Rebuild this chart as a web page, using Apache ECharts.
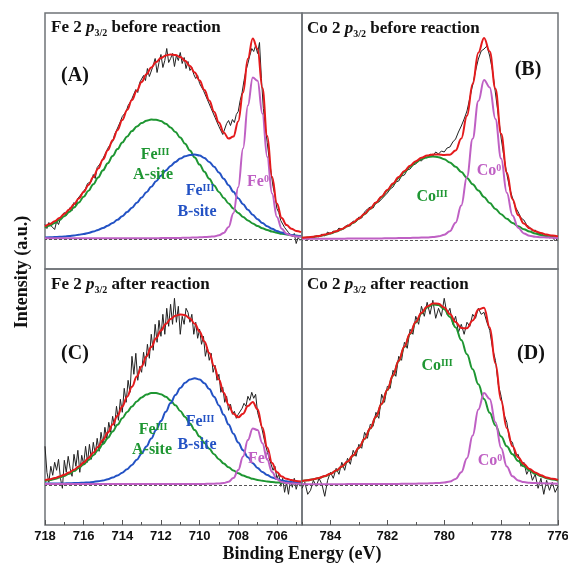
<!DOCTYPE html>
<html>
<head>
<meta charset="utf-8">
<script src="https://cdn.jsdelivr.net/npm/echarts@6/dist/echarts.min.js"></script>
<style>
html, body { margin: 0; padding: 0; background: #ffffff; }
#chart { width: 568px; height: 569px; }
</style>
</head>
<body>
<div id="chart"></div>
<script>
// ---- Binding energies (eV) ----
const feFitEnergy = [718,717.75,717.5,717.25,717,716.75,716.5,716.25,716,715.75,715.5,715.25,715,714.75,714.5,714.25,714,713.75,713.5,713.25,713,712.75,712.5,712.25,712,711.75,711.5,711.25,711,710.75,710.5,710.25,710,709.75,709.5,709.25,709,708.75,708.5,708.25,708,707.75,707.5,707.25,707,706.75,706.5,706.25,706,705.75,705.5,705.25,705,704.75];
const feRawEnergy = [
  718,717.9,717.8,717.7,717.6,717.5,717.4,717.3,717.2,717.1,
  717,716.9,716.8,716.7,716.6,716.5,716.4,716.3,716.2,716.1,
  716,715.9,715.8,715.7,715.6,715.5,715.4,715.3,715.2,715.1,
  715,714.9,714.8,714.7,714.6,714.5,714.4,714.3,714.2,714.1,
  714,713.9,713.8,713.7,713.6,713.5,713.4,713.3,713.2,713.1,
  713,712.9,712.8,712.7,712.6,712.5,712.4,712.3,712.2,712.1,
  712,711.9,711.8,711.7,711.6,711.5,711.4,711.3,711.2,711.1,
  711,710.9,710.8,710.7,710.6,710.5,710.4,710.3,710.2,710.1,
  710,709.9,709.8,709.7,709.6,709.5,709.4,709.3,709.2,709.1,
  709,708.9,708.8,708.7,708.6,708.5,708.4,708.3,708.2,708.1,
  708,707.9,707.8,707.7,707.6,707.5,707.4,707.3,707.2,707.1,
  707,706.9,706.8,706.7,706.6,706.5,706.4,706.3,706.2,706.1,
  706,705.9,705.8,705.7,705.6,705.5,705.4,705.3,705.2,705.1,
  705,704.9,704.8];
const coFitEnergy = [785,784.8,784.6,784.4,784.2,784,783.8,783.6,783.4,783.2,783,782.8,782.6,782.4,782.2,782,781.8,781.6,781.4,781.2,781,780.8,780.6,780.4,780.2,780,779.8,779.6,779.4,779.2,779,778.8,778.6,778.4,778.2,778,777.8,777.6,777.4,777.2,777,776.8,776.6,776.4,776.2,776];
const coRawEnergy = [
  785,784.9,784.8,784.7,784.6,784.5,784.4,784.3,784.2,784.1,
  784,783.9,783.8,783.7,783.6,783.5,783.4,783.3,783.2,783.1,
  783,782.9,782.8,782.7,782.6,782.5,782.4,782.3,782.2,782.1,
  782,781.9,781.8,781.7,781.6,781.5,781.4,781.3,781.2,781.1,
  781,780.9,780.8,780.7,780.6,780.5,780.4,780.3,780.2,780.1,
  780,779.9,779.8,779.7,779.6,779.5,779.4,779.3,779.2,779.1,
  779,778.9,778.8,778.7,778.6,778.5,778.4,778.3,778.2,778.1,
  778,777.9,777.8,777.7,777.6,777.5,777.4,777.3,777.2,777.1,
  777,776.9,776.8,776.7,776.6,776.5,776.4,776.3,776.2,776.1,
  776];

// ---- (A) Fe 2p3/2 before reaction ----
const feBeforeRaw = [
  14,10,16,13,15,9,17,14,20,19,
  26,23,27,31,28,36,33,40,39,45,
  44,50,55,53,57,64,60,71,70,76,
  80,84,88,92,93,97,104,108,109,117,
  122,124,127,133,136,140,141,149,146,156,
  154,163,158,170,162,161,173,180,166,176,
  184,171,178,190,176,180,185,172,183,178,
  186,175,181,170,177,168,171,164,160,163,
  155,157,148,149,139,141,130,131,121,122,
  112,111,104,102,115,118,113,119,116,124,
  127,138,146,158,168,175,183,190,187,193,
  185,196,160,130,112,96,80,66,52,43,
  30,26,18,17,11,12,6,8,2,5,
  -5,1,-2];
const feBeforeASite = [10.7,13.0,15.6,18.7,22.3,26.4,31.0,36.1,41.7,47.8,54.3,61.1,68.2,75.3,82.4,89.4,96.0,102.0,107.4,111.9,115.4,117.8,118.9,118.8,117.4,114.8,111.1,106.4,100.9,94.7,88.0,81.0,73.9,66.7,59.7,53.0,46.6,40.6,35.1,30.0,25.5,21.6,18.1,15.1,12.5,10.3,8.5,7.0,5.8,4.8,4.0,3.3,2.8,2.4];
const feBeforeBSite = [1.1,1.3,1.4,1.7,2.0,2.4,3.0,3.7,4.5,5.6,6.9,8.6,10.5,12.8,15.6,18.7,22.3,26.4,30.8,35.7,40.9,46.3,51.8,57.3,62.7,67.9,72.5,76.6,79.9,82.3,83.6,84.0,82.9,80.4,76.6,71.7,66.1,59.8,53.3,46.7,40.3,34.3,28.7,23.7,19.3,15.5,12.3,9.7,7.6,5.9,4.6,3.6,2.8,2.2];
const feBeforeMetal = [0.2,0.2,0.2,0.2,0.2,0.2,0.2,0.2,0.2,0.2,0.2,0.2,0.2,0.2,0.2,0.2,0.2,0.2,0.2,0.2,0.2,0.2,0.3,0.3,0.4,0.4,0.5,0.5,0.6,0.7,0.8,1.0,1.2,1.4,1.7,2.1,3.2,5.5,11.5,25.2,51.3,90.1,132.9,161.1,157.7,124.8,81.6,45.0,21.6,9.8,4.8,2.9,2.0,1.7];
const feBeforeEnvelope = [12.0,14.5,17.2,20.6,24.5,29.0,34.2,40.0,46.4,53.6,61.4,69.9,78.9,88.3,98.2,108.3,118.5,128.6,138.4,147.8,156.5,164.3,171.0,176.4,180.5,183.1,184.1,183.5,181.4,177.7,172.4,166.0,158.0,148.5,138.0,126.8,115.9,105.9,99.9,101.9,117.1,146.0,179.7,199.9,189.5,150.6,102.4,61.7,35.0,20.5,13.4,9.8,7.6,6.3];

// ---- (B) Co 2p3/2 before reaction ----
const coBeforeRaw = [
  0,1,-1,2,1,3,2,5,3,7,
  5,8,7,11,9,12,14,13,18,17,
  22,21,27,30,32,31,36,37,40,43,
  46,50,52,57,58,63,64,69,70,74,
  75,79,78,82,81,85,83,87,85,88,
  87,91,92,97,100,107,113,120,128,141,
  154,168,180,188,190,193,183,168,146,124,
  101,82,65,51,41,32,27,21,19,14,
  12,8,9,5,6,3,4,1,2,-2,
  1];
const coBeforeOxide = [1.0,1.5,2.1,2.9,4.1,5.5,7.4,9.8,12.7,16.1,20.2,24.8,30.1,35.9,42.0,48.4,54.8,61.1,67.0,72.2,76.5,79.8,81.8,82.5,81.8,79.8,76.5,72.2,67.0,61.1,54.8,48.4,42.0,35.9,30.1,24.8,20.2,16.1,12.7,9.8,7.4,5.5,4.1,2.9,2.1,1.5];
const coBeforeMetal = [0.2,0.2,0.2,0.2,0.3,0.3,0.3,0.3,0.4,0.4,0.4,0.5,0.5,0.6,0.6,0.7,0.8,0.9,1.0,1.1,1.3,1.4,1.6,2.0,2.7,4.2,7.8,16.3,33.5,62.2,100.3,137.9,159.0,151.6,120.1,80.4,46.3,23.6,11.2,5.6,3.3,2.3,1.8,1.5,1.3,1.1];
const coBeforeEnvelope = [1.2,1.7,2.3,3.1,4.4,5.8,7.7,10.1,13.1,16.5,20.6,25.3,30.6,36.5,42.6,49.1,55.6,62.0,68.0,73.3,77.8,81.2,83.4,84.5,84.5,84.0,84.3,88.5,100.5,123.3,155.1,186.3,201.0,187.5,150.2,105.2,66.5,39.7,23.9,15.4,10.7,7.8,5.9,4.4,3.4,2.6];

// ---- (C) Fe 2p3/2 after reaction ----
const feAfterRaw = [
  38,12,2,18,9,22,14,25,6,-4,
  24,12,28,16,8,30,18,34,12,29,
  20,38,22,40,25,42,30,46,33,52,
  40,57,45,62,52,68,58,78,64,85,
  72,96,82,104,92,128,110,131,104,118,
  112,132,118,140,126,150,134,160,142,164,
  148,170,150,176,158,180,160,186,162,178,
  150,168,160,176,172,162,170,150,162,146,
  155,140,148,128,137,124,131,112,119,104,
  110,92,97,82,88,74,80,70,73,66,
  70,72,76,81,78,88,84,92,86,90,
  72,74,58,56,40,42,26,28,14,18,
  6,10,-2,6,-8,2,-10,4,-3,6,
  -5,2,-2];
const feAfterASite = [3.3,4.2,5.3,6.7,8.4,10.6,13.2,16.3,19.9,24.2,29.0,34.4,40.2,46.4,52.9,59.5,66.0,72.2,77.9,82.9,86.9,89.7,91.3,91.4,90.1,87.5,83.8,79.0,73.4,67.3,60.8,54.2,47.7,41.4,35.5,30.0,25.1,20.8,17.0,13.8,11.0,8.8,7.0,5.5,4.4,3.5,2.8,2.3,1.9,1.6,1.3,1.2,1.0,0.9];
const feAfterBSite = [0.7,0.7,0.8,0.8,0.9,1.0,1.2,1.3,1.6,1.9,2.4,3.0,3.9,5.1,6.7,8.8,11.6,15.1,19.4,24.6,30.8,37.9,45.8,54.4,63.4,72.5,81.2,89.3,96.2,101.5,104.8,106.0,104.7,101.0,95.2,87.6,78.9,69.5,59.9,50.6,41.8,34.0,27.0,21.1,16.3,12.3,9.3,6.9,5.2,3.9,3.0,2.3,1.8,1.5];
const feAfterMetal = [0.2,0.2,0.2,0.2,0.2,0.2,0.2,0.2,0.2,0.2,0.2,0.2,0.2,0.2,0.2,0.2,0.2,0.2,0.2,0.2,0.2,0.2,0.2,0.2,0.3,0.3,0.3,0.3,0.3,0.3,0.3,0.3,0.3,0.4,0.5,0.6,0.8,1.3,2.6,6.2,14.2,27.8,44.2,55.8,54.3,41.0,24.7,12.2,5.2,2.2,1.2,0.8,0.6,0.5];
const feAfterEnvelope = [4.2,5.1,6.3,7.7,9.5,11.8,14.6,17.8,21.7,26.3,31.6,37.6,44.3,51.7,59.8,68.5,77.8,87.5,97.5,107.7,117.9,127.8,137.3,146.0,153.8,160.3,165.3,168.6,169.9,169.1,165.9,160.5,152.7,142.8,131.2,118.2,104.8,91.6,79.5,70.6,67.0,70.6,78.2,82.4,75.0,56.8,36.8,21.4,12.3,7.7,5.5,4.3,3.4,2.9];

// ---- (D) Co 2p3/2 after reaction ----
const coAfterRaw = [
  -4,2,-10,-6,4,-2,6,0,-12,4,
  12,6,16,10,22,14,26,20,34,28,
  40,36,52,46,60,58,72,66,90,82,
  98,96,114,108,128,124,142,136,155,150,
  168,160,178,168,182,170,184,166,176,168,
  186,170,176,160,168,152,160,150,162,158,
  170,166,176,170,172,162,154,136,124,100,
  88,70,62,44,42,28,30,18,22,10,
  16,4,10,-4,6,-10,4,-6,2,-8,
  -2];
const coAfterOxide = [3.3,4.0,5.0,6.3,8.1,10.4,13.5,17.5,22.6,28.8,36.3,45.3,55.7,67.4,80.3,94.2,108.6,123.2,137.3,150.3,161.7,170.7,176.9,179.8,179.2,175.0,167.4,156.9,144.2,130.0,115.1,100.0,85.3,71.5,58.9,47.8,38.1,30.0,23.3,18.0,13.7,10.5,8.0,6.1,4.8,3.8];
const coAfterMetal = [0.1,0.1,0.1,0.1,0.1,0.1,0.15,0.15,0.2,0.2,0.2,0.25,0.25,0.3,0.3,0.35,0.4,0.4,0.5,0.55,0.65,0.75,0.9,1.1,1.4,1.8,2.8,5.4,12.0,26.0,48.7,74.9,91.2,85.3,62.0,36.3,17.9,8.0,3.8,2.2,1.6,1.2,1.1,0.8,0.7,0.6];
const coAfterEnvelope = [3.4,4.1,5.1,6.4,8.2,10.5,13.7,17.7,22.8,29.0,36.5,45.6,56.0,67.7,80.6,94.6,109.0,123.6,137.8,150.9,162.4,171.5,177.8,180.9,180.6,176.8,170.2,162.3,156.2,156.0,163.8,174.9,176.5,156.8,120.9,84.1,56.0,38.0,27.1,20.2,15.3,11.7,9.1,6.9,5.5,4.4];

// ---- Axis ticks ----
const feMajorTicks = [718,716,714,712,710,708,706];
const feMinorTicks = [717,715,713,711,709,707,705];
const coMajorTicks = [784,782,780,778,776];
const coMinorTicks = [785,783,781,779,777];
const feRange = [704.7, 718];
const coRange = [776, 785];

// Intensity window of each panel (fit baseline sits at 0)
const yRanges = [[-30.5, 225.5], [-30, 226], [-40.7, 215.3], [-40.7, 215.3]];
const baselines = [-1, -1, -0.7, -0.7];

const COLORS = { raw: '#222222', red: '#e41a1c', green: '#1e9632', blue: '#2352c4', purple: '#bf60c4' };

const pairs = (xs, ys) => xs.map((x, i) => [x, ys[i]]);

const panels = [
  { E: feFitEnergy, rawE: feRawEnergy, raw: feBeforeRaw, comps: [[feBeforeASite, 'green'], [feBeforeBSite, 'blue'], [feBeforeMetal, 'purple']], env: feBeforeEnvelope },
  { E: coFitEnergy, rawE: coRawEnergy, raw: coBeforeRaw, comps: [[coBeforeOxide, 'green'], [coBeforeMetal, 'purple']], env: coBeforeEnvelope },
  { E: feFitEnergy, rawE: feRawEnergy, raw: feAfterRaw, comps: [[feAfterASite, 'green'], [feAfterBSite, 'blue'], [feAfterMetal, 'purple']], env: feAfterEnvelope },
  { E: coFitEnergy, rawE: coRawEnergy, raw: coAfterRaw, comps: [[coAfterOxide, 'green'], [coAfterMetal, 'purple']], env: coAfterEnvelope }
];

const gridBox = [
  { left: 45, top: 13, width: 257, height: 256 },
  { left: 302, top: 13, width: 256, height: 256 },
  { left: 45, top: 269, width: 257, height: 256 },
  { left: 302, top: 269, width: 256, height: 256 }
];

const grid = gridBox.map(b => Object.assign({
  show: true, borderColor: '#6f7377', borderWidth: 1.5,
  backgroundColor: 'transparent', containLabel: false, outerBoundsMode: 'none'
}, b));

const tickLine = { color: '#555555', width: 1 };
const labelStyle = { color: '#111111', fontFamily: 'Liberation Sans, Arial, sans-serif', fontWeight: 'bold', fontSize: 13, margin: 5 };

const xAxis = [];
[0, 1, 2, 3].forEach(i => {
  const isFe = (i % 2 === 0);
  const range = isFe ? feRange : coRange;
  const bottom = i >= 2;
  xAxis.push({
    gridIndex: i, type: 'value', min: range[0], max: range[1], inverse: true,
    position: 'bottom', show: bottom,
    axisLine: { show: false, onZero: false },
    splitLine: { show: false },
    axisTick: { show: bottom, inside: true, length: 5, lineStyle: tickLine, customValues: isFe ? feMajorTicks : coMajorTicks },
    axisLabel: Object.assign({ show: bottom, customValues: isFe ? feMajorTicks : coMajorTicks, formatter: v => String(v) }, labelStyle)
  });
});
// minor ticks on the two bottom panels
[2, 3].forEach(i => {
  const isFe = (i % 2 === 0);
  const range = isFe ? feRange : coRange;
  xAxis.push({
    gridIndex: i, type: 'value', min: range[0], max: range[1], inverse: true,
    position: 'bottom', offset: 0,
    axisLine: { show: false, onZero: false }, splitLine: { show: false }, axisLabel: { show: false },
    axisTick: { show: true, inside: true, length: 3, lineStyle: tickLine, customValues: isFe ? feMinorTicks : coMinorTicks }
  });
});

const yAxis = yRanges.map((r, i) => ({ gridIndex: i, type: 'value', min: r[0], max: r[1], show: false }));

const series = [];
panels.forEach((p, i) => {
  series.push({
    type: 'line', xAxisIndex: i, yAxisIndex: i, data: pairs(p.rawE, p.raw),
    showSymbol: false, symbol: 'none', lineStyle: { color: COLORS.raw, width: 1 }, z: 2,
    markLine: {
      silent: true, symbol: ['none', 'none'], label: { show: false },
      lineStyle: { type: [3, 2], color: '#555555', width: 1 },
      data: [{ yAxis: baselines[i] }]
    }
  });
  p.comps.forEach(([vals, col]) => {
    series.push({
      type: 'line', xAxisIndex: i, yAxisIndex: i, data: pairs(p.E, vals),
      showSymbol: false, symbol: 'none', smooth: 0.4, smoothMonotone: 'x',
      lineStyle: { color: COLORS[col], width: 2 }, z: 3
    });
  });
  series.push({
    type: 'line', xAxisIndex: i, yAxisIndex: i, data: pairs(p.E, p.env),
    showSymbol: false, symbol: 'none', smooth: 0.4, smoothMonotone: 'x',
    lineStyle: { color: COLORS.red, width: 2 }, z: 4
  });
});

// ---- Text ----
const SERIF = 'Liberation Serif, Times New Roman, serif';
const titleRich = {
  b: { fontFamily: SERIF, fontWeight: 'bold', fontSize: 17, lineHeight: 20, fill: '#111' },
  i: { fontFamily: SERIF, fontWeight: 'bold', fontStyle: 'italic', fontSize: 17, lineHeight: 20, fill: '#111' },
  s: { fontFamily: SERIF, fontWeight: 'bold', fontSize: 10, lineHeight: 10, padding: [10, 0, 0, 0], fill: '#111' }
};
function title(x, y, element, state) {
  return {
    type: 'text', x: x, y: y, z: 10,
    style: {
      text: '{b|' + element + ' 2 }{i|p}{s|3/2}{b| ' + state + ' reaction}',
      rich: titleRich, textAlign: 'left', textVerticalAlign: 'middle', align: 'left', verticalAlign: 'middle'
    }
  };
}
function plain(x, y, text, size, color, align) {
  return {
    type: 'text', x: x, y: y, z: 10,
    style: {
      text: text, fill: color, font: 'bold ' + size + 'px ' + SERIF,
      textAlign: align || 'center', textVerticalAlign: 'middle', align: align || 'center', verticalAlign: 'middle'
    }
  };
}
function species(x, y, base, sup, color) {
  return {
    type: 'text', x: x, y: y, z: 10,
    style: {
      text: '{m|' + base + '}{u|' + sup + '}',
      fill: color,
      rich: {
        m: { fontFamily: SERIF, fontWeight: 'bold', fontSize: 16, lineHeight: 18, fill: color },
        u: { fontFamily: SERIF, fontWeight: 'bold', fontSize: 10, lineHeight: 10, padding: [0, 0, 6, 0], fill: color }
      },
      textAlign: 'center', textVerticalAlign: 'middle', align: 'center', verticalAlign: 'middle'
    }
  };
}

const graphic = [
  title(51, 28, 'Fe', 'before'),
  title(307, 29, 'Co', 'before'),
  title(51, 285, 'Fe', 'after'),
  title(307, 285, 'Co', 'after'),
  plain(75, 76, '(A)', 20, '#111'),
  plain(528, 70, '(B)', 20, '#111'),
  plain(75, 354, '(C)', 20, '#111'),
  plain(531, 354, '(D)', 20, '#111'),
  // panel A
  species(155, 155, 'Fe', 'III', COLORS.green),
  plain(153, 175, 'A-site', 16, COLORS.green),
  species(200, 191, 'Fe', 'III', COLORS.blue),
  plain(197, 212, 'B-site', 16, COLORS.blue),
  species(258, 182, 'Fe', '0', COLORS.purple),
  // panel B
  species(432, 197, 'Co', 'III', COLORS.green),
  species(489, 171, 'Co', '0', COLORS.purple),
  // panel C
  species(153, 430, 'Fe', 'III', COLORS.green),
  plain(152, 450, 'A-site', 16, COLORS.green),
  species(200, 422, 'Fe', 'III', COLORS.blue),
  plain(197, 445, 'B-site', 16, COLORS.blue),
  species(259, 459, 'Fe', '0', COLORS.purple),
  // panel D
  species(437, 366, 'Co', 'III', COLORS.green),
  species(490, 461, 'Co', '0', COLORS.purple),
  // axis names
  plain(302, 554, 'Binding Energy (eV)', 18, '#111'),
  {
    type: 'text', x: 22, y: 272, rotation: Math.PI / 2, z: 10,
    style: {
      text: 'Intensity (a.u.)', fill: '#111', font: 'bold 18px ' + SERIF,
      textAlign: 'center', textVerticalAlign: 'middle', align: 'center', verticalAlign: 'middle'
    }
  }
];

const chart = echarts.init(document.getElementById('chart'), null, { renderer: 'canvas', width: 568, height: 569 });
chart.setOption({
  animation: false,
  backgroundColor: '#ffffff',
  grid: grid,
  xAxis: xAxis,
  yAxis: yAxis,
  series: series,
  graphic: graphic
});
</script>
</body>
</html>
